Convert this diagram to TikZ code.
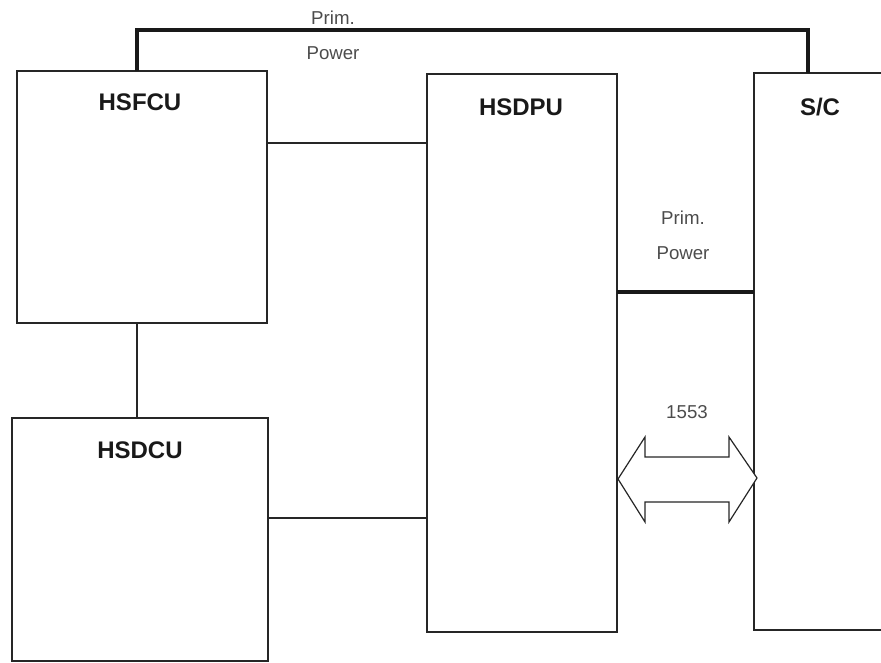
\documentclass[tikz,border=0pt]{standalone}
\usepackage{fontspec}
\setmainfont{Liberation Sans}
\begin{document}
\begin{tikzpicture}[x=0.75pt,y=-0.75pt,
  box/.style={draw=black!85, line width=0.9pt, inner sep=0pt, outer sep=0pt, anchor=north west},
  sbox/.style={draw=none, inner sep=0pt, outer sep=0pt, anchor=north west},
  title/.style={font=\bfseries\fontsize{18}{21}\selectfont, text=black!90, inner sep=0pt},
  small/.style={font=\fontsize{14}{16}\selectfont, text=black!70, inner sep=0pt},
  link/.style={draw=black!85, line width=0.9pt},
  power/.style={draw=black!90, line width=2.6pt}]
\useasboundingbox (0,0) rectangle (881,663);
% boxes
\node[box, minimum width=187.5pt, minimum height=189pt] (hsfcu) at (17,71) {};
\node[box, minimum width=192pt, minimum height=182.25pt] (hsdcu) at (12,418) {};
\node[box, minimum width=142.5pt, minimum height=418.5pt] (hsdpu) at (427,74) {};
\node[sbox, minimum width=120pt, minimum height=417.75pt] (sc) at (754,73) {};
\draw[link] (sc.north east) -- (sc.north west) -- (sc.south west) -- (sc.south east);
% titles
\node[title] (t1) at (140,102) {HSFCU};
\node[title] (t2) at (140,450) {HSDCU};
\node[title] (t3) at (521,107) {HSDPU};
\node[title] (t4) at (820,107) {S/C};
% helper levels
\coordinate (ytop) at (0,30);
\coordinate (y1) at (0,143);
\coordinate (y2) at (0,518);
\coordinate (y3) at (0,292);
\coordinate (xa) at (137,0);
\coordinate (xb) at (808,0);
% top primary power
\draw[power] (hsfcu.north -| xa) -- (xa |- ytop) -- (xb |- ytop) -- (sc.north -| xb);
\node[small] (pp1) at (333,18) {Prim.};
\node[small] (pp2) at (333,53) {Power};
% data links
\draw[link] (hsfcu.east |- y1) -- (hsdpu.west |- y1);
\draw[link] (hsdcu.east |- y2) -- (hsdpu.west |- y2);
\draw[link] (hsfcu.south -| xa) -- (hsdcu.north -| xa);
% right primary power
\draw[power] (hsdpu.east |- y3) -- (sc.west |- y3);
\node[small] (pp3) at (683,218) {Prim.};
\node[small] (pp4) at (683,253) {Power};
% 1553 double arrow
\draw[link, fill=white] (618,479) -- (645,437) -- (645,457) -- (729,457) -- (729,437)
  -- (757,478) -- (729,522) -- (729,502) -- (645,502) -- (645,522) -- cycle;
\node[small] (n1553) at (687,412) {1553};
\end{tikzpicture}
\end{document}
